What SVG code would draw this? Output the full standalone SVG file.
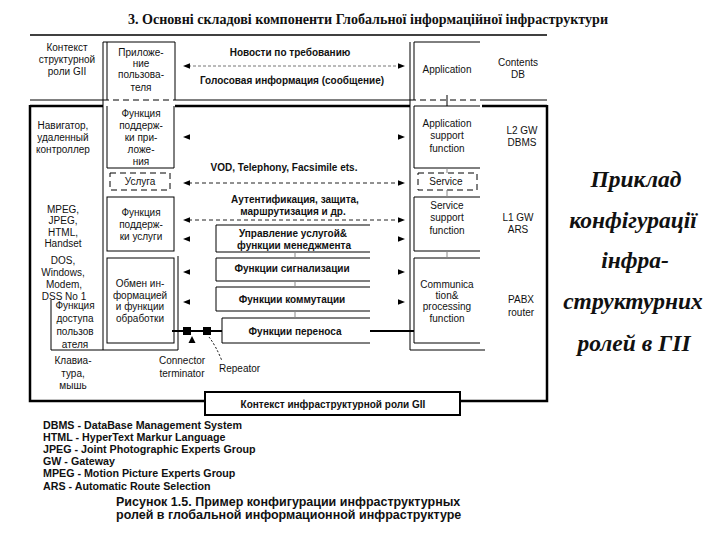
<svg xmlns="http://www.w3.org/2000/svg" xmlns:xlink="http://www.w3.org/1999/xlink" width="720" height="540" viewBox="0 0 720 540">
<defs>
<style>
text{font-family:"Liberation Sans",Arial,sans-serif;font-size:10px;fill:#111}
.c{text-anchor:middle}
.b{font-weight:bold}
.ttl{font-family:"Liberation Serif","Times New Roman",serif;font-size:14px;font-weight:bold}
.big{font-family:"Liberation Serif","Times New Roman",serif;font-size:23.5px;font-weight:bold;font-style:italic;text-anchor:middle}
.lg{font-size:10.7px;font-weight:bold}
.cap{font-size:12.5px;font-weight:bold}
.ln{stroke:#000;stroke-width:1;fill:none}
.thk{stroke:#000;stroke-width:2.5;fill:none}
.dsh{stroke:#000;stroke-width:1;fill:none;stroke-dasharray:6 4}
.gd{stroke:#777;stroke-width:1;fill:none;stroke-dasharray:3 2}
.ad{stroke:#222;stroke-width:1;fill:none;stroke-dasharray:4 3}
.gv{stroke:#888;stroke-width:1;fill:none}
</style>
<path id="aL" d="M0,0 L7,-2.8 L7,2.8 Z" fill="#000"/>
<path id="aR" d="M0,0 L-7,-2.8 L-7,2.8 Z" fill="#000"/>
</defs>
<rect width="720" height="540" fill="#fff"/>
<text class="ttl" x="128" y="24" textLength="480" lengthAdjust="spacingAndGlyphs">3. Основні складові компоненти Глобальної інформаційної інфраструктури</text>

<g id="frame">
<line class="ln" x1="30" y1="35" x2="547" y2="35" style="stroke-width:1.5"/>
<path class="ln" d="M30,100H103M175,100H410M482,100H547"/>
<path class="dsh" d="M103,100H175M410,100H482"/>
<path class="ln" d="M447,95V106"/>
<path class="thk" d="M30,106H103M175,106H410M482,106H547"/>
<path class="thk" d="M30,105V401H205M460,401H547V105"/>
</g>

<g id="ctx-top">
<text class="c" x="67" y="50.5">Контекст</text>
<text class="c" x="67" y="62.5">структурной</text>
<text class="c" x="67" y="75">роли GII</text>
</g>

<g id="user-app">
<path class="ln" d="M103,42V350M107,42V100M175,42V100M103,42H175"/>
<text class="c" x="141" y="55.5">Приложе-</text>
<text class="c" x="141" y="66.5">ние</text>
<text class="c" x="141" y="78">пользова-</text>
<text class="c" x="141" y="90.5">теля</text>
</g>

<g id="news">
<text class="c b" x="290" y="56">Новости по требованию</text>
<text class="c b" x="292" y="83.5">Голосовая информация (сообщение)</text>
</g>

<g id="application">
<path class="ln" d="M410,42V350M414,42V100M414,42H480"/>
<text class="c" x="447" y="72.5">Application</text>
</g>
<g id="contents-db">
<text class="c" x="518" y="65.5">Contents</text>
<text class="c" x="518" y="77.5">DB</text>
</g>

<g id="navigator">
<text class="c" x="63" y="128.5">Навигатор,</text>
<text class="c" x="63" y="141">удаленный</text>
<text class="c" x="63" y="153">контроллер</text>
</g>
<g id="mpeg">
<text class="c" x="63" y="212.5">MPEG,</text>
<text class="c" x="63" y="224">JPEG,</text>
<text class="c" x="63" y="235.5">HTML,</text>
<text class="c" x="63" y="246.5">Handset</text>
</g>
<g id="dos">
<text class="c" x="63" y="263.5">DOS,</text>
<text class="c" x="63" y="275.5">Windows,</text>
<text class="c" x="64" y="287.5">Modem,</text>
<text class="c" x="64" y="299.5">DSS No 1</text>
</g>
<g id="user-access">
<path class="ln" d="M51,300V350H178V256"/>
<text class="c" x="75" y="309">Функция</text>
<text class="c" x="75" y="322">доступа</text>
<text class="c" x="75" y="335">пользов</text>
<text class="c" x="75" y="348">ателя</text>
</g>
<g id="keyboard">
<text class="c" x="73" y="363.5">Клавиа-</text>
<text class="c" x="73" y="377">тура,</text>
<text class="c" x="73" y="388.5">мышь</text>
</g>

<g id="app-support-ru">
<path class="ln" d="M107,106V168H174V106"/>
<text class="c" x="141" y="116.5">Функция</text>
<text class="c" x="141" y="128.5">поддерж-</text>
<text class="c" x="141" y="140.5">ки при-</text>
<text class="c" x="141" y="152.5">ложе-</text>
<text class="c" x="141" y="164.5">ния</text>
</g>
<g id="service-ru">
<rect class="dsh" x="110" y="173" width="60" height="17"/>
<text class="c" x="140" y="185">Услуга</text>
</g>
<g id="service-support-ru">
<rect class="ln" x="107" y="197" width="67" height="54"/>
<text class="c" x="141" y="215.5">Функция</text>
<text class="c" x="141" y="227.5">поддерж-</text>
<text class="c" x="141" y="239.5">ки услуги</text>
</g>
<g id="exchange">
<rect class="ln" x="107" y="258" width="67" height="85"/>
<text class="c" x="140" y="286.5">Обмен ин-</text>
<text class="c" x="140" y="298.5">формацией</text>
<text class="c" x="140" y="309.5">и функции</text>
<text class="c" x="140" y="321.5">обработки</text>
</g>

<g id="vod"><text class="c b" x="284" y="171">VOD, Telephony, Facsimile ets.</text></g>
<g id="auth">
<text class="c b" x="295" y="203">Аутентификация, защита,</text>
<text class="c b" x="293" y="215">маршрутизация и др.</text>
</g>
<g id="mgmt">
<path class="ln" d="M370,225H216V252H370"/>
<text class="c b" x="293" y="236.5">Управление услугой&amp;</text>
<text class="c b" x="294" y="248.5">функции менеджмента</text>
</g>
<g id="signal">
<path class="ln" d="M370,258H216V281H370"/>
<text class="c b" x="292" y="271.5">Функции сигнализации</text>
</g>
<g id="switch">
<path class="ln" d="M370,287H216V311H370"/>
<text class="c b" x="292" y="302.5">Функции коммутации</text>
</g>
<g id="transfer">
<path class="ln" d="M370,318H222V343H370"/>
<text class="c b" x="295" y="334.5">Функции переноса</text>
</g>

<g id="app-support">
<path class="ln" d="M480,106H414V168H480"/>
<text class="c" x="447" y="126.5">Application</text>
<text class="c" x="447" y="138.5">support</text>
<text class="c" x="447" y="151.5">function</text>
</g>
<g id="service">
<rect class="dsh" x="418" y="173" width="59" height="17"/>
<text class="c" x="446" y="185">Service</text>
</g>
<g id="service-support">
<path class="ln" d="M480,197H414V251H480"/>
<text class="c" x="447" y="208.5">Service</text>
<text class="c" x="447" y="220.5">support</text>
<text class="c" x="447" y="233.5">function</text>
</g>
<g id="comm">
<path class="ln" d="M480,258H414V343H480M410,350H485"/>
<text class="c" x="447" y="287.5">Communica</text>
<text class="c" x="447" y="298.5">tion&amp;</text>
<text class="c" x="447" y="309.5">processing</text>
<text class="c" x="447" y="321.5">function</text>
</g>
<g id="l2"><text class="c" x="522" y="133.5">L2 GW</text><text class="c" x="522" y="145.5">DBMS</text></g>
<g id="l1"><text class="c" x="518" y="220.5">L1 GW</text><text class="c" x="518" y="232.5">ARS</text></g>
<g id="pabx"><text class="c" x="521" y="302.5">PABX</text><text class="c" x="521" y="315.5">router</text></g>

<g id="ctx-infra">
<rect x="205" y="392" width="255" height="23" fill="#fff" stroke="#000" stroke-width="2"/>
<text class="c b" x="333" y="407.5">Контекст инфраструктурной роли GII</text>
</g>

<g id="connectors">
<path class="gd" d="M188,66H400"/>
<path class="ad" d="M188,183H400M188,220H400"/>
<path class="gv" d="M295,252V258M295,281V287M295,311V318M447,168V173M447,190V197M447,251V258"/>
<use href="#aL" x="183" y="66"/><use href="#aR" x="405" y="66"/>
<use href="#aL" x="183" y="137"/><use href="#aR" x="405" y="137"/>
<use href="#aL" x="183" y="183"/><use href="#aR" x="405" y="183"/>
<use href="#aL" x="183" y="220"/><use href="#aR" x="405" y="220"/>
<use href="#aL" x="183" y="239"/><use href="#aR" x="405" y="239"/>
<use href="#aL" x="183" y="272"/><use href="#aR" x="405" y="272"/>
<use href="#aL" x="183" y="302"/><use href="#aR" x="405" y="302"/>
<path d="M172,331H222M370,331H414" stroke="#000" stroke-width="2" fill="none"/>
<rect x="183" y="327" width="8" height="8" fill="#000"/>
<rect x="203" y="327" width="8" height="8" fill="#000"/>
<polygon points="192,336 188.5,343 195.5,343" fill="#000"/>
<path d="M209,337Q216,346 222,361" stroke="#000" stroke-width="1" fill="none" stroke-dasharray="2 2"/>
</g>
<g id="connector-label">
<text class="c" x="182" y="363.5">Connector</text>
<text class="c" x="182" y="376.5">terminator</text>
</g>
<g id="repeator-label"><text x="219" y="371.5">Repeator</text></g>

<g id="legend">
<text class="lg" x="43" y="428.5">DBMS - DataBase Management System</text>
<text class="lg" x="43" y="440.7">HTML - HyperText Markur Language</text>
<text class="lg" x="43" y="452.9">JPEG - Joint Photographic Experts Group</text>
<text class="lg" x="43" y="465.1">GW - Gateway</text>
<text class="lg" x="43" y="477.3">MPEG - Motion Picture Experts Group</text>
<text class="lg" x="43" y="489.5">ARS - Automatic Route Selection</text>
</g>
<g id="caption">
<text class="cap" x="116" y="506">Рисунок 1.5. Пример конфигурации инфраструктурных</text>
<text class="cap" x="116" y="519">ролей в глобальной информационной инфраструктуре</text>
</g>
<g id="side-title">
<text class="big" x="636" y="187">Приклад</text>
<text class="big" x="633" y="228">конфігурації</text>
<text class="big" x="635" y="268">інфра-</text>
<text class="big" x="633" y="309">структурних</text>
<text class="big" x="634" y="351">ролей в ГІІ</text>
</g>
</svg>
